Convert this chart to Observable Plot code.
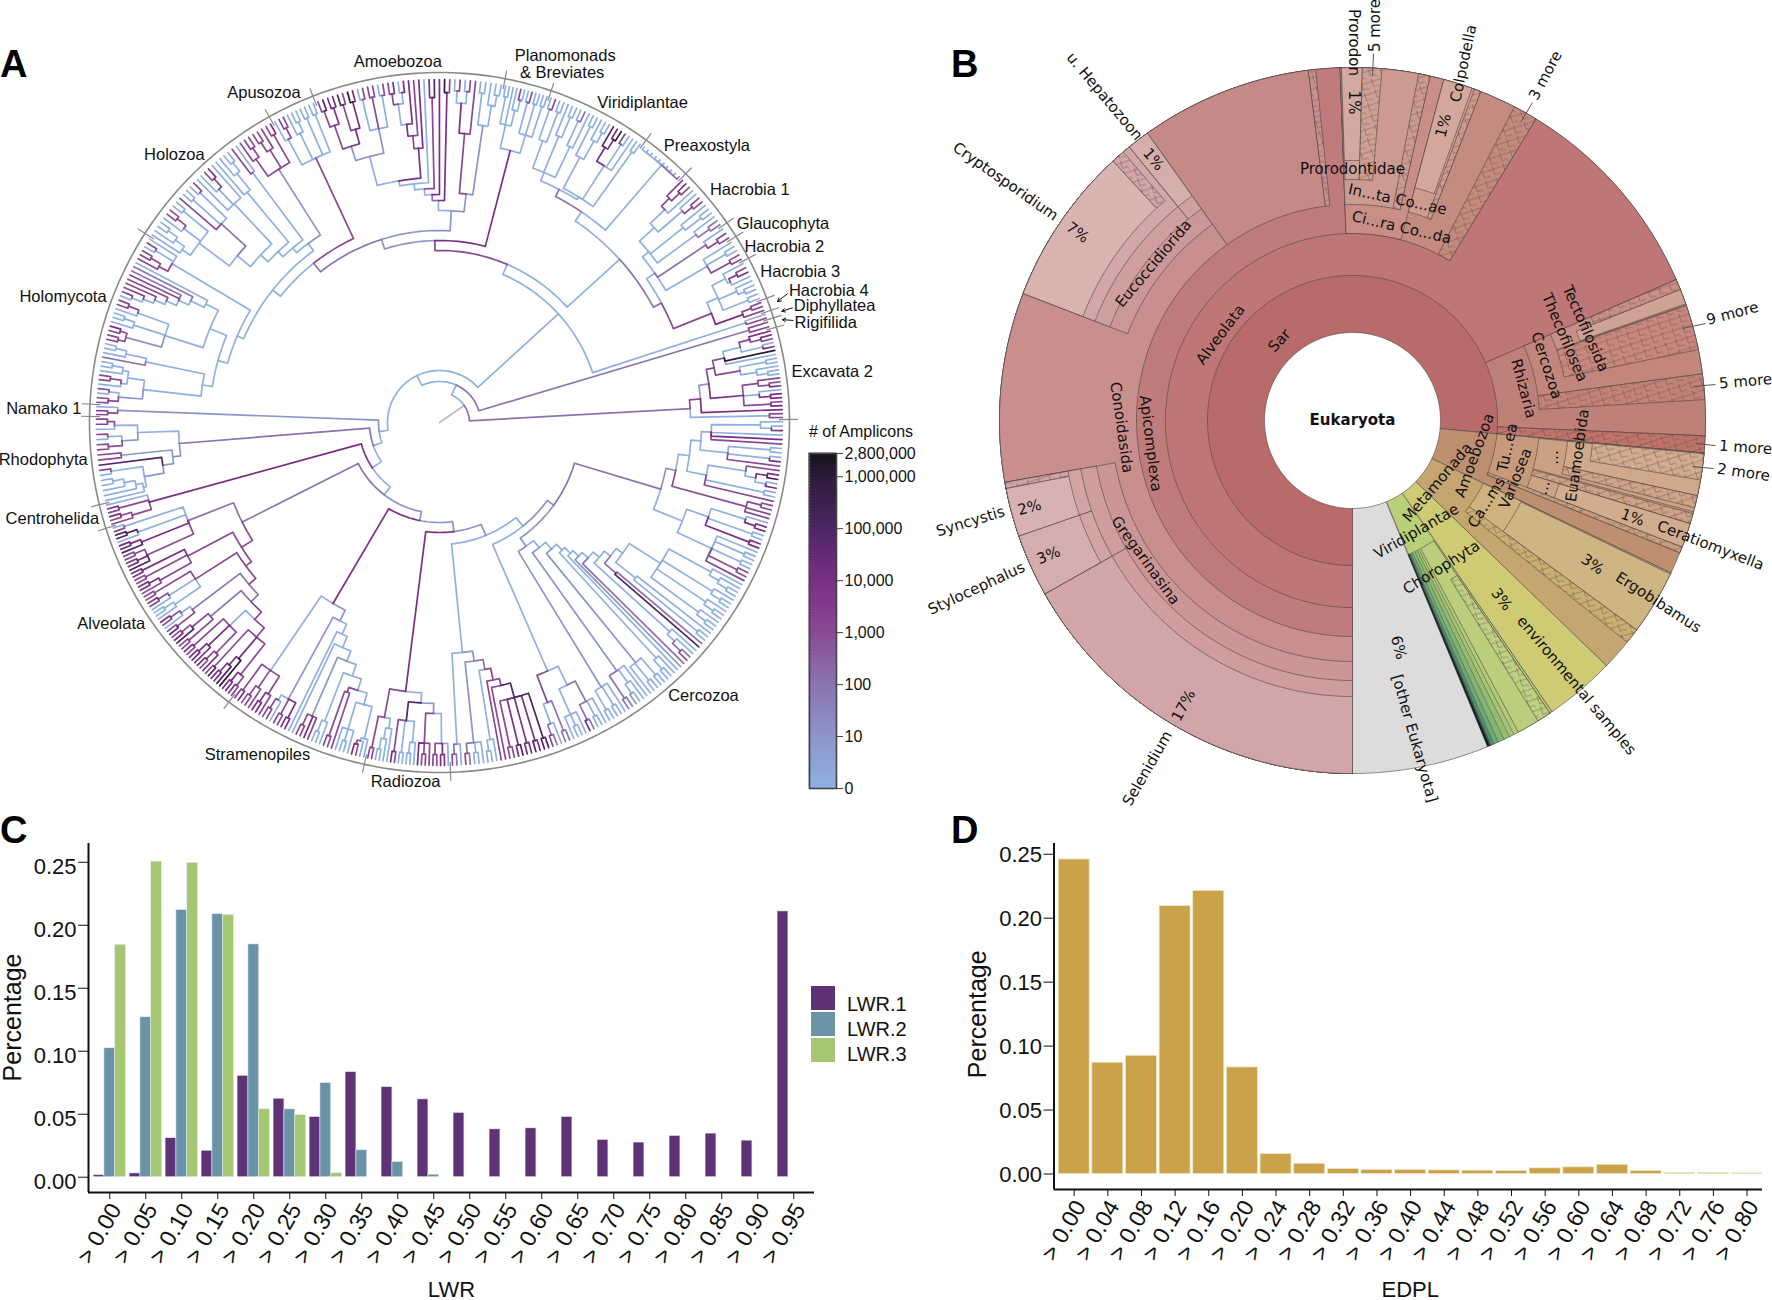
<!DOCTYPE html>
<html><head><meta charset="utf-8">
<script src="https://cdn.jsdelivr.net/npm/d3@7"></script>
<script src="https://cdn.jsdelivr.net/npm/@observablehq/plot@0.6"></script>
<style>
html,body{margin:0;padding:0;background:#fff}
#page{position:relative;width:1772px;height:1300px;overflow:hidden;background:#fff;font-family:"Liberation Sans",sans-serif;color:#111}
#page svg{position:absolute;background:transparent;max-width:none;overflow:visible}
.letter{position:absolute;font:bold 38px "Liberation Sans",sans-serif;line-height:38px;color:#000}
.leg{position:absolute;font-size:20px;line-height:24px}
.sw{position:absolute;width:24px;height:24px}
</style></head><body><div id="page"></div>
<script>
// ---------- PANEL C / D DATA ----------
const lwrBins=["0.00","0.05","0.10","0.15","0.20","0.25","0.30","0.35","0.40","0.45","0.50","0.55","0.60","0.65","0.70","0.75","0.80","0.85","0.90","0.95"];
const lwr1=[.0016,.003,.031,.021,.0805,.0623,.0478,.0834,.0715,.0618,.051,.038,.0388,.0478,.0296,.0275,.0327,.0346,.029,.211];
const lwr2=[.1024,.127,.212,.2088,.1848,.0539,.0747,.0214,.0121,.002,0,0,0,0,0,0,0,0,0,0];
const lwr3=[.1845,.2505,.2495,.2083,.0539,.0494,.0032,0,0,0,0,0,0,0,0,0,0,0,0,0];
const edplBins=["0.00","0.04","0.08","0.12","0.16","0.20","0.24","0.28","0.32","0.36","0.40","0.44","0.48","0.52","0.56","0.60","0.64","0.68","0.72","0.76","0.80"];
const edpl=[.2459,.087,.0924,.2094,.2213,.0833,.0155,.008,.0039,.0031,.0031,.0028,.0026,.0023,.0044,.0052,.0072,.0023,.0008,.0008,.0005];
const percentTicks=[0,.05,.1,.15,.2,.25];

// ---------- PANEL A DATA : the tree, written clockwise from the right. digit = leaf level (log10 amplicons),
// (…)@r:l = inner node at radius r whose branch has level l, | = start of the next named clade
const cladeNames=["Cercozoa","Radiozoa","Stramenopiles","Alveolata","Centrohelida","Rhodophyta","Namako 1","Holomycota","Holozoa","Apusozoa","Amoebozoa","Planomonads","Viridiplantae","Preaxostyla","Hacrobia 1","Glaucophyta","Hacrobia 2","Hacrobia 3","Hacrobia 4","Diphyllatea","Rigifilida","Excavata 2"];
const cladeStart=[89.5,178.2,192.4,217,252.4,256.4,271,273,302.7,330.9,338.8,370.8,378.6,396.2,404.7,415.2,417.9,422,429.2,431.3,432.6,434.2,449.5];
const a111="((0(04))043)@272", a112="((00)(04)3)@290", a12="((3((45)(04)))(00)3)@272", a2="((33)33)@318:3";
const b1x="((0(44))(00)(44))@285", b2x="(0(00)(00)(33)3)@300";
const g108=`((((${a111}${a112})@262 ${a12})@252 ${a2})@241:1 (${b1x}${b2x})@262)@231:2`;
const k1="((0(0(00)))(0(00))(0(00))(0(00)))@262";
const g143=`((((((((((${k1}(0(00))@250)@225(25)@232:2)@217(0(0(23)))@311)@209 2)@201 1)@193 0)@185(0(00))@320)@177((00)(00)0)@310:1)@169(0(0(01))(22))@305:1)@160(0(00)(00))@310:1)@151:1`;
const v155=`(((0(00)(24))@315:2(0(00)0)@320)@292((22)(0(23)))@300:3)@271:0`;
const t1a="(((((55)(45)(44)(54)(33))@285:5 3)@270:3 3)@263:3(0(00)))@251:2";
const t175=`((${t1a}(0(00)(23))@322:1)@241:1(0(23))@322:0)@231:0`;
const radiozoa=`((((0(44)(33))(3(33)4))@291:1((0(00))(00)(34))@300:5)@281:0((0(0(00)))(33))@300:3)@271:4`;
const sn=`((((((((0(0(34)))@325(0(00)0)@320)@292(3(33))@285:3)@280(0(00))@320)@268(34(33))@320:1)@256 0)@245 0)@233((44)(33)(0(33)))@315:1)@222:1`;
const stram=`(${sn}((3(44))(3(33))(43))@300:0)@210:4`;
const alvB2222="(((34)(44))(6(5(44)))(53))@282:3", alvB2221="((4(34))(4(44))(34))@292:0", alvB221="((33)(5(43)))@300:2", alvB21="((53)(0(34)))@310:2", alvB1="((0(00))(0(34))(33))@290:3", alvA="((3(44))(33)(44))@285:3";
const alv1=`(((((${alvB2222}${alvB2221})@270:3 ${alvB221})@260:2 ${alvB21})@250:3 ${alvB1})@241:3 ${alvA})@234:3`;
const alv2="((5(44)(33))(5(44))(0(55))(30))@270:2";
const alveolata=`(${alv1}${alv2})@221:2`;
const centro="((3(34))(34)0)@301:4";
const rho1=`((((0(0(0(00))))(03))@300:1 5)@280:1(33)@320:1)@269:1`;
const rho2="(((33)(03))@318:1(0(33))@325)@302:0";
const rhodo=`(${rho1}${rho2})@261:2`;
const namako="((33)0)@322:1";
const h1="(((33)(03))@322:1((0(33))(0(00)))@315)@298", h2="(2(0(00)))@300";
const h3="(((33)(34))@325:1(0(00))(0(33)))@288";
const h4="(((((((03)3)3)3)3 2)2)0)@262";
const h5="((3(33))(03)0)@311";
const holomycota=`(((${h1}${h2})@240(${h3}${h4})@248)@230 ${h5})@220:0`;
const z1="((0(0(00)))(0(33))(00))@300", z2="(3(00)(03))@295:2", z3="(0(0(34))0)@300", z4="(0(0(00)))@300", z5="(30)@312", z6="((3(33))((33)3)(34))@300:1";
const holozoa=`(((((${z1}${z2})@262 ${z3})@245 ${z4})@235 ${z5})@228 ${z6})@222:0`;
const apusozoa="((0(33))(0(00))(00)(00))@292:3";
const am1=`((((35)(44))@315:3((53)(64))@305:4)@290:1((03)(33)(03))@300:1)@275:0`;
const am2="(((((34)(04))4)@300:4 3)@288:3 4)@275:4";
const amChain=`(((((${am1}${am2})@245 0)@240(45)@325:3)@234 4)@228:2(63)@330:4)@222:0`;
const amB="(((((03)(03))@320:4 3)@290:3)@270:3((00)(0(00)))@300:1)@230:1";
const amoebozoa=`(${amChain}${amB})@212:1`;
const plano="(((00)0(0(30)))@305((03)(00)(00))@300)@281:4";
const v1="(((03)(00))@300(0(00))@310((02)0)@305)@271";
const v2="(((00)(0(00)))@300((5(46))(30)0)@305:0(00))@264";
const v3="((0(00))(0(00))(0(00))2)@285";
const hA="((((3(43))0)@310(0(33))@322)@290(0(00))@312(0(22))@318)@270";
const hB="(0(33))@320:2", hC="(0(00)(33))@310";
const hac2="(|((0((34)0))@320(0(00))@325(00))@305|((33)3)@322:4)@293:3";
const hac=`((${hA}|${hB}|${hC})@262:0${hac2})@252:2`;
const y2=`(((${v1}${v2})@262:2|(${v3}3)@271)@254:0|${hac})@243:0`;
const y1=`((((${holomycota}|${holozoa})@213:0|${apusozoa})@203:2|${amoebozoa})@192:1|${plano})@182:3`;
const rr=`((${y1}|${y2})@172:0|(03)@322:0)@161:0`;
const back=`(((((((((${g108}${g143})@141:1 ${v155})@133:0 ${t175})@122:1|${radiozoa})@110:1|${stram})@100:1|${alveolata})@91:0|${centro})@81:0|${rhodo})@70:0|${namako})@61:0`;
const ex=`(((((((4(43))(04))6 0)@292:3((00)(0(00)))@305:3)@280:3((3(34))(0(44))(34))@305:4)@272:1 4)@262:3(33)@330:0)@251:2`;
const treeText=`(((${back}|${rr})@52:0|(33)@323:2)@41:0|${ex})@30:0`;

const levelTicks=[0,1,2,3,4,5,6,6.447];
const levelTickText=["0","10","100","1,000","10,000","100,000","1,000,000","2,800,000"];
const levelColors=["#8FB0E2","#8D95C8","#8B73AF","#8A4A92","#7A2F85","#4C2665","#2C1A38","#131217"];
const labelsA=[["Amoebozoa",-6.6,363],["Planomonads",18.9,388],["& Breviates",19.3,371],["Viridiplantae",32.4,379],["Preaxostyla",44,385],["Hacrobia 1",53.1,388],["Glaucophyta",59.9,397],["Hacrobia 2",63,387],["Hacrobia 3",67.3,391],["Hacrobia 4",71.3,411],["Diphyllatea",73.5,412],["Rigifilida",75.5,399],["Excavata 2",82.6,396],["Cercozoa",136,380],["Radiozoa",185.4,361],["Stramenopiles",208.7,379],["Alveolata",238.5,385],["Centrohelida",256,399],["Rhodophyta",264.7,398],["Namako 1",272,396],["Holomycota",288.5,397],["Holozoa",315.3,377],["Apusozoa",332,374]];
const arrowsA=[[69.7,371,70.3,359],[72,371,72,360],[73.9,368,73.3,358]];

// ---------- PANEL B DATA : name, from°, to°, ring ; drawn parents first as in a Krona plot
const ringRadii=[88,145,187,216,241,260,276,289];
const kronaNodes=[
["other",157.5,180,0],["Sar",180,455.3,0],["Alveolata",180,426.6,1],["Apicomplexa",180,358,2],["Conoidasida",180,324.5,3],["Gregarinasina",180,259.9,4],
["f",180,240.6,5],["Selenidium",180,240.6,6],["f",240.6,259.9,5],["f",240.6,250.9,6],["f",250.9,259.9,6],["Stylocephalus",240.6,250.9,7],["Syncystis",250.9,258.9,7],["h",258.9,259.9,7],
["Eucoccidiorida",291.1,324.5,4],["f",291.1,320.8,5],["f",291.1,320.8,6],["Cryptosporidium",291.1,317.3,7],["h",317.3,319.5,7],["f",320.8,324.5,5],["Hepatozoon",320.8,324.5,6],
["f",324.5,352.8,3],["h",352.8,354,3],
["Ciliophora",358,391.3,2],["Ci..da",358,375,2],["In..ta",358,372.7,3],["Prorodontidae",358.2,361.6,4],["Prorodon",358.2,361.6,5],["h",361.6,364.8,4],["h",370.8,372.7,3],["Co..ae",375,381.3,3],["Colpodella",375,379.8,4],["h",380.2,381.3,3],["h",387.3,391.3,2],
["Rhizaria",426.5,452.5,1],["Cercozoa",426.5,442.4,2],["Thecofilosea",426.5,430.9,3],["Tectofilosida",428.2,430.7,4],["h",426.5,428.2,5],["h",431,438.4,3],["h",442.4,446.6,2],["h",452.5,455.3,1],
["Amoebozoa",95.3,115.6,0],["Tu..ea",95.3,112,1],["f",95.5,105,2],["Euamoebida",95.5,102.3,3],["h",95.4,99.7,4],["h",102.3,104.3,3],["h",105.3,107,2],["Variosea",107,111,2],["Ceratiomyxella",107,111,3],["h",111,112,1],
["Metamonada",115.6,134,0],["Ca..ms",115.6,127,1],["Ergobibamus",115.8,126.4,2],["h",126.4,128.9,1],
["environmental",134,145.6,0],["Viridiplantae",145.6,157.3,0],["Chlorophyta",146,152,1],["h",146,148.3,2],
["g",152,152.8,1],["g",152.8,153.6,1],["g",153.6,154.6,1],["g",154.6,155.6,1],["g",155.6,156.4,1],["g",156.4,156.9,1],["g",156.9,157.1,1],["g",157.1,157.5,1]];
const kronaFills=["#DCDCDC","#B96B6B","#BE7677","#C07C7C","#C98F8F","#CC9596","#CF9D9E","#D2A6A9","#CF9D9E","#D2A4A4","#D2A4A4","#D5ADAD","#D8B2B2","#D2A5A5",
"#CC9798","#CF9F9F","#D3A7A7","#D8B3B0","#D3A7A7","#D0A1A0","#D5ADAB","#C58A88","#C99090",
"#C48C80","#C98E85","#CC9A90","#D0A298","#D4A9A2","#CFA095","#CC9A90","#CE9B8F","#D3A79C","#CE9B8F","#C58A7E",
"#BF8079","#C3867C","#C98F87","#D0A296","#C98F87","#C8887E","#C38378","#C0736A",
"#BF8F72","#C79A7C","#CCA083","#D0A98A","#D2AC8E","#CFA488","#CDA286","#CDA386","#D2AC8F","#C9A07F",
"#C6A670","#CFB27F","#CEB583","#C9B072",
"#CFCB74","#B9CF78","#BBCE7C","#BFD082",
"#B0CA78","#A6C676","#93BE72","#82B673","#6CA973","#4F8F72","#2A5E66","#0C1E22"];
const kronaText=[["Sar",1279,340,-47],["Alveolata",1220,334,-53],["Apicomplexa",1150,443,83],["Conoidasida",1121,427,82],["Gregarinasina",1145,560,54],["Eucoccidiorida",1153,263,-50],["Cryptosporidium",1005,181,35],["7%",1077,232,37],["u. Hepatozoon",1104,96,50],["1%",1153,159,50],["Syncystis",970,521,-17],["2%",1029,507,-15],["Stylocephalus",976,588,-25],["3%",1048,555,-22],["Selenidium",1147,768,-60],["17%",1183,705,-62],["6%",1398,647,75],["[other Eukaryota]",1414,738,74],["environmental samples",1576,685,50],["3%",1501,599,52],["Chorophyta",1441,567,-32],["Viridiplantae",1416,531,-30],["Metamonada",1437,482,-50],["Amoebozoa",1474,455,-70],["Ca...ms",1486,502,-58],["Tu...ea",1507,447,-78],["Variosea",1515,478,-68],["...",1553,457,-90],["...",1543,487,-75],["Euamoebida",1577,455,-82],["Rhizaria",1523,388,75],["Cercozoa",1546,365,72],["Thecofilosea",1564,337,67],["Tectofilosida",1585,328,66],["9 more",1732,313,-15],["5 more",1745,381,-5],["1 more",1745,447,4],["2 more",1743,472,8],["1%",1632,517,20],["Ceratiomyxella",1710,545,21],["3%",1592,564,35],["Ergobibamus",1658,602,33],["Prorodon",1353,42,90],["1%",1353,102,90],["5 more",1375,25,-90],["Colpodella",1463,63,-78],["1%",1443,125,-75],["3 more",1545,75,-62],["Prorodontidae",1352,169,0],["In...ta Co...ae",1397,199,12],["Ci...ra Co...da",1401,227,13]];
const kronaLeaders=[[1682,328,1705,323],[1693,386,1715,384],[1695,443,1715,445],[1692,466,1713,468],[1372,75,1373,53],[1520,122,1532,102]];

// ---------- helpers ----------
const page=document.getElementById("page");
function place(svg,left,top){svg.style.left=left+"px";svg.style.top=top+"px";page.appendChild(svg);return svg;}
const polar=(cx,cy,t,r)=>[cx+r*Math.sin(t*Math.PI/180),cy-r*Math.cos(t*Math.PI/180)];

// ---------- tree parse + layout ----------
function parseTree(s){
  let i=0,leaves=[],anch=[0];
  const ws=()=>{while(/\s/.test(s[i]||""))i++;};
  function num(){let j=i;while(/[0-9]/.test(s[i]||""))i++;return +s.slice(j,i);}
  function node(){
    ws();
    if(s[i]==="("){
      i++;const kids=[];
      for(;;){ws();
        if(s[i]===")")break;
        if(s[i]==="|"){anch.push(leaves.length);i++;continue;}
        if(i>=s.length)throw new Error("unbalanced tree");
        kids.push(node());}
      i++;const n={kids,r:null,lvl:null};
      if(s[i]==="@"){i++;n.r=num();}
      if(s[i]===":"){i++;n.lvl=+s[i++];}
      return n;
    }
    if(!/[0-9]/.test(s[i]))throw new Error("bad token "+s[i]+" at "+i);
    const n={lvl:+s[i++],leaf:true,r:343,idx:leaves.length};leaves.push(n);return n;
  }
  const root=node();
  ws();if(i<s.length)throw new Error("trailing tree text at "+i+": "+s.slice(i,i+30));
  return {root,leaves,anch};
}
const T=parseTree(treeText);
if(T.anch.length!==cladeStart.length-1)throw new Error("anchors "+T.anch.length);
const leafAngle=d3.scaleLinear().domain([...T.anch,T.leaves.length]).range(cladeStart);
(function lay(n){
  if(n.leaf){n.theta=leafAngle(n.idx+.5);return;}
  n.kids.forEach(lay);
  n.theta=(n.kids[0].theta+n.kids[n.kids.length-1].theta)/2;
  if(n.r==null)n.r=Math.min(...n.kids.map(k=>k.r))-11;
  if(n.lvl==null)n.lvl=Math.min(...n.kids.map(k=>k.lvl));
})(T.root);
(function clampR(n){ if(n.leaf)return; n.kids.forEach(k=>{if(!k.leaf){k.r=Math.min(340,Math.max(k.r,n.r+3));} clampR(k);}); })(T.root);
const cxA=439,cyA=422;
const branches=[];
(function walk(n){ if(n.leaf)return; n.kids.forEach(k=>{branches.push({p:n,k});walk(k);}); })(T.root);
branches.sort((a,b)=>a.k.lvl-b.k.lvl);
const treeRows=[];
branches.forEach(({p,k},id)=>{
  const d=k.theta-p.theta,n=Math.max(1,Math.ceil(Math.abs(d)/1.5));
  for(let j=0;j<=n;j++){const [x,y]=polar(cxA,cyA,p.theta+d*j/n,p.r);treeRows.push({id,level:k.lvl,x,y});}
  const [x,y]=polar(cxA,cyA,k.theta,k.r);treeRows.push({id,level:k.lvl,x,y});
});
const colorOpt={type:"linear",domain:levelTicks,range:levelColors};
const circle=d3.range(0,361,1).map(t=>{const [x,y]=polar(cxA,cyA,t,350);return {x,y};});
const sepRows=cladeStart.slice(0,-1).flatMap((t,id)=>[340,358].map(r=>{const [x,y]=polar(cxA,cyA,t,r);return {id,x,y};}));
const stub=[0,30].map(r=>{const [x,y]=polar(cxA,cyA,T.root.theta,r);return {x,y};});
const labelRows=labelsA.map(([name,t,r])=>{const [x,y]=polar(cxA,cyA,t,r);return {name,x,y};});
const arrowRows=arrowsA.map(([t1,r1,t2,r2])=>{const a=polar(cxA,cyA,t1,r1),b=polar(cxA,cyA,t2,r2);return {x1:a[0],y1:a[1],x2:b[0],y2:b[1]};});

place(Plot.plot({width:930,height:810,margin:0,x:{domain:[0,930],axis:null},y:{domain:[810,0],axis:null},color:colorOpt,
  style:{fontFamily:"Liberation Sans"},
  marks:[
   Plot.line(circle,{x:"x",y:"y",stroke:"#8a8a8a",strokeWidth:1.6}),
   Plot.line(sepRows,{x:"x",y:"y",z:"id",stroke:"#8a8a8a",strokeWidth:1.2}),
   Plot.line(stub,{x:"x",y:"y",stroke:"#bdbdbd",strokeWidth:1.7}),
   Plot.line(treeRows,{x:"x",y:"y",z:"id",stroke:"level",strokeWidth:1.7}),
   Plot.arrow(arrowRows,{x1:"x1",y1:"y1",x2:"x2",y2:"y2",stroke:"#111",strokeWidth:1,headLength:6}),
   Plot.text(labelRows,{x:"x",y:"y",text:"name",fontSize:16.5,fill:"#111",fontFamily:"Liberation Sans"})
  ]}),0,0);

// colour bar
const barBins=d3.range(0,6.447,.06);
place(Plot.plot({width:130,height:360,marginLeft:9,marginRight:94,marginTop:13,marginBottom:12,x:{domain:[0,1],axis:null},y:{domain:[0,6.447]},color:colorOpt,
  style:{fontFamily:"Liberation Sans"},
  marks:[
   Plot.rect(barBins,{x1:0,x2:1,y1:d=>d,y2:d=>Math.min(6.447,d+.08),fill:d=>d,stroke:d=>d,strokeWidth:.6}),
   Plot.frame({stroke:"#444",strokeWidth:1.6}),
   Plot.axisY({anchor:"right",ticks:levelTicks,tickFormat:v=>levelTickText[levelTicks.indexOf(v)],tickSize:6,tickPadding:2,fontSize:16,label:null,stroke:"#444",color:"#111"})
  ]}),800,440);
const cbT=document.createElement("div");cbT.className="leg";cbT.style.cssText="left:809px;top:420px;font-size:16px";cbT.textContent="# of Amplicons";page.appendChild(cbT);

// ---------- Krona ----------
const cxB=1352,cyB=420,outerB=353;
function wedge(t0,t1,r0,id){
  const n=Math.max(1,Math.ceil((t1-t0)/1));const pts=[];
  for(let j=0;j<=n;j++){const [x,y]=polar(cxB,cyB,t0+(t1-t0)*j/n,outerB);pts.push({id,x,y});}
  for(let j=n;j>=0;j--){const [x,y]=polar(cxB,cyB,t0+(t1-t0)*j/n,r0);pts.push({id,x,y});}
  pts.push({...pts[0]});
  return pts;
}
const hatchDefs=()=>d3.create("svg:defs").html(`<pattern id="kh" width="11" height="11" patternUnits="userSpaceOnUse" patternTransform="rotate(-18)"><path d="M0 2.75H5.5V8.25H11M5.5 -2.75V2.75H11M0 8.25V13.75" fill="none" stroke="#5d4640" stroke-opacity=".6" stroke-width=".7"/></pattern>`).node();
const kronaMarks=[];
kronaNodes.forEach(([name,t0,t1,ring],i)=>{
  const rows=wedge(t0,t1,ringRadii[ring],i);
  kronaMarks.push(Plot.line(rows,{x:"x",y:"y",fill:kronaFills[i],stroke:"#4d4444",strokeWidth:name==="g"?.35:.6,strokeLinejoin:"miter"}));
  if(name==="h")kronaMarks.push(Plot.line(rows,{x:"x",y:"y",fill:"url(#kh)",stroke:"none"}));
});
place(Plot.plot({width:872,height:830,margin:0,x:{domain:[900,1772],axis:null},y:{domain:[830,0],axis:null},
  style:{fontFamily:"DejaVu Sans"},
  marks:[hatchDefs,...kronaMarks,
    Plot.link(kronaLeaders,{x1:d=>d[0],y1:d=>d[1],x2:d=>d[2],y2:d=>d[3],stroke:"#555",strokeWidth:1}),
    Plot.text(kronaText,{x:d=>d[1],y:d=>d[2],text:d=>d[0],rotate:d=>d[3],fontSize:15,fill:"#111",fontFamily:"DejaVu Sans"}),
    Plot.text(["Eukaryota"],{x:[cxB],y:[cyB],text:d=>d,fontSize:15,fontWeight:"bold",fill:"#111",fontFamily:"DejaVu Sans"})
  ]}),900,0);

// ---------- shared axis marks for C and D ----------
const yfmt=d3.format(".2f");
const yTickMarks=(dy)=>[
   Plot.axisY({ticks:percentTicks,text:null,tickSize:10,label:null,stroke:"#111"}),
   Plot.text(percentTicks,{y:d=>d,text:d=>yfmt(d),frameAnchor:"left",textAnchor:"end",dx:-12,dy,fontSize:22,fill:"#111"})
];
const xTickMarks=(bins)=>[
   Plot.axisX({ticks:d3.range(bins.length),text:null,tickSize:7,label:null,stroke:"#111"}),
   Plot.text(d3.range(bins.length),{x:d=>d,text:d=>"> "+bins[d],frameAnchor:"bottom",textAnchor:"end",lineAnchor:"middle",rotate:-60,dx:6,dy:13,fontSize:23,fill:"#111"})
];

// ---------- Panel C ----------
const serNames=["LWR.1","LWR.2","LWR.3"],serColors=["#5F3275","#6A93A8","#A5C672"];
const lwrRows=[lwr1,lwr2,lwr3].flatMap((vals,s)=>vals.map((v,i)=>({i,s,v}))).filter(d=>d.v>0);
place(Plot.plot({width:930,height:470,marginLeft:88,marginRight:116,marginTop:13,marginBottom:108,
  x:{domain:[-.592,19.575],axis:null},y:{domain:[-.01214,.2649],axis:null},
  style:{fontFamily:"Liberation Sans"},
  marks:[
   Plot.rectY(lwrRows,{x1:d=>d.i-.45+d.s*.3,x2:d=>d.i-.45+(d.s+1)*.3,y1:0,y2:"v",fill:d=>serColors[d.s],stroke:"#e9eef0",strokeWidth:.7,strokeOpacity:.8}),
   Plot.ruleX([-.592],{stroke:"#111",strokeWidth:2}),
   Plot.ruleY([-.01214],{stroke:"#111",strokeWidth:2}),
   ...yTickMarks(5),...xTickMarks(lwrBins),
   Plot.text(["LWR"],{x:[9.49],frameAnchor:"bottom",dy:104,fontSize:22,fill:"#111"}),
   Plot.text(["Percentage"],{y:[.1268],frameAnchor:"left",textAnchor:"middle",lineAnchor:"middle",dx:-76,rotate:-90,fontSize:25,fill:"#111"})
  ]}),0,830);
serNames.forEach((n,i)=>{
  const y=986+i*26;
  const s=document.createElement("div");s.className="sw";s.style.cssText=`left:811px;top:${y}px;background:${serColors[i]}`;page.appendChild(s);
  const t=document.createElement("div");t.className="leg";t.style.cssText=`left:847px;top:${y+6-i}px`;t.textContent=n;page.appendChild(t);
});

// ---------- Panel D ----------
const edplRows=edpl.map((v,i)=>({i,v}));
place(Plot.plot({width:832,height:470,marginLeft:113.5,marginRight:10,marginTop:13,marginBottom:111,
  x:{domain:[-.6,20.46],axis:null},y:{domain:[-.01212,.2584],axis:null},
  style:{fontFamily:"Liberation Sans"},
  marks:[
   Plot.rectY(edplRows,{x1:d=>d.i-.46,x2:d=>d.i+.46,y1:0,y2:"v",fill:"#C9A24A",stroke:"#f0e4c4",strokeWidth:.7}),
   Plot.ruleX([-.6],{stroke:"#111",strokeWidth:2}),
   Plot.ruleY([-.01212],{stroke:"#111",strokeWidth:2}),
   ...yTickMarks(1),...xTickMarks(edplBins),
   Plot.text(["EDPL"],{x:[9.99],frameAnchor:"bottom",dy:107,fontSize:22,fill:"#111"}),
   Plot.text(["Percentage"],{y:[.1249],frameAnchor:"left",textAnchor:"middle",lineAnchor:"middle",dx:-76,rotate:-90,fontSize:25,fill:"#111"})
  ]}),940,830);

// ---------- panel letters ----------
[["A",0,45],["B",951,45],["C",0,811],["D",951,811]].forEach(([t,x,y])=>{const d=document.createElement("div");d.className="letter";d.style.left=x+"px";d.style.top=y+"px";d.textContent=t;page.appendChild(d);});
</script></body></html>
